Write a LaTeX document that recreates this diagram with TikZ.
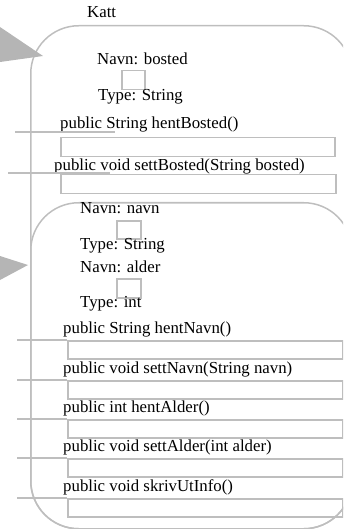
\documentclass[tikz,border=0pt]{standalone}
\usepackage{fontspec}
\setmainfont{Liberation Serif}
\usetikzlibrary{positioning}
\definecolor{line}{HTML}{BEBEBE}
\definecolor{pointer}{HTML}{B5B5B5}
\tikzset{
  frame/.style={draw=line, line width=1.5pt, rounded corners=48pt, inner sep=0, anchor=north west},
  slot/.style={draw=line, line width=1.5pt, inner sep=0, minimum height=19pt, anchor=north west},
  field/.style={draw=line, line width=1.5pt, inner sep=0, minimum width=23pt, minimum height=19pt, anchor=north west},
  txt/.style={font=\fontsize{16.8}{19}\selectfont, inner sep=0, anchor=west},
  stub/.style={draw=line, line width=1.5pt},
  pointer/.style={fill=pointer, draw=none}
}

\begin{document}
\begin{tikzpicture}[x=1pt,y=-1pt]
  \useasboundingbox (0,0) rectangle (343,529);
  \clip (0,0) rectangle (343,529);

  \node[txt] (katt) at (87,12) {Katt};
  \node[frame, minimum width=321pt, minimum height=503pt] (kattbox) at (30,25) {};
  \node[frame, minimum width=321pt, minimum height=326pt] (navnbox) at (30,202) {};

  \fill[pointer] (0,27) -- (43,56) -- (0,62) -- cycle;
  \fill[pointer] (0,256) -- (28,265) -- (0,280) -- cycle;

  % bosted
  \node[txt] (bostednavn) at (97,59) {Navn: bosted};
  \node[field] (bostedfield) at (121,70) {};
  \node[txt] (bostedtype) at (98,97) {Type: String};

  \node[txt] (hentbosted) at (60,124) {public String hentBosted()};
  \node[slot, minimum width=274pt] (hentbostedslot) at (60,137) {};
  \coordinate (hentbostedstub) at (15,132);
  \coordinate (hentbostedend) at (115,132);
  \draw[stub] (hentbostedstub) -- (hentbostedend);

  \node[txt] (settbosted) at (54,166) {public void settBosted(String bosted)};
  \node[slot, minimum width=275pt] (settbostedslot) at (60,174) {};
  \coordinate (settbostedstub) at (8,173);
  \coordinate (settbostedend) at (110,173);
  \draw[stub] (settbostedstub) -- (settbostedend);

  % navn and alder
  \node[txt] (navnnavn) at (80,208) {Navn: navn};
  \node[field, minimum width=24pt, minimum height=18pt] (navnfield) at (116,220) {};
  \node[txt] (navntype) at (80,246) {Type: String};
  \node[txt] (aldernavn) at (80,267) {Navn: alder};
  \node[field, minimum width=24pt] (alderfield) at (116,278) {};
  \node[txt] (aldertype) at (80,304) {Type: int};

  \foreach \y/\name/\sig in {340/hentnavn/{public String hentNavn()},
      380/settnavn/{public void settNavn(String navn)},
      419/hentalder/{public int hentAlder()},
      458/settalder/{public void settAlder(int alder)},
      498/skrivut/{public void skrivUtInfo()}} {
    \node[txt] (\name) at (63,\y-11) {\sig};
    \node[slot, minimum width=275pt, minimum height=18pt] (\name slot) at (67,\y) {};
    \coordinate (\name stub) at (17,\y);
    \draw[stub] (\name stub) -- (\name slot.north west);
  }
\end{tikzpicture}
\end{document}
